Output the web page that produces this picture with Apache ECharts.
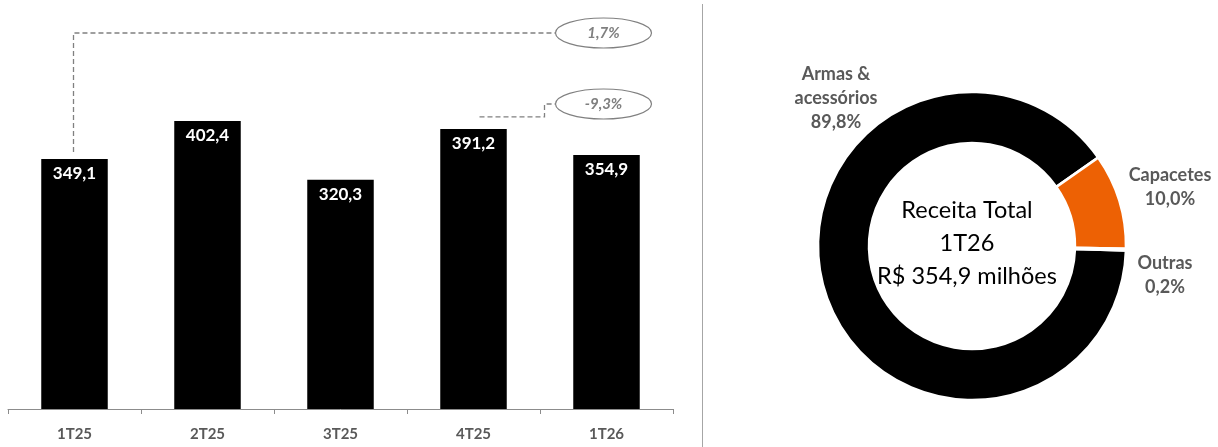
<!DOCTYPE html>
<html>
<head>
<meta charset="utf-8">
<script src="https://cdn.jsdelivr.net/npm/echarts@6/dist/echarts.min.js"></script>
<style>
  html, body { margin: 0; padding: 0; background: #fff; }
  #chart { width: 1218px; height: 447px; }
</style>
</head>
<body>
<div id="chart"></div>
<script>
// Quarterly revenue (R$ milhões)
const quarters = ['1T25', '2T25', '3T25', '4T25', '1T26'];
const revenue = [349.1, 402.4, 320.3, 391.2, 354.9];

// Revenue mix of the latest quarter (%)
const segments = ['Armas &\nacessórios', 'Capacetes', 'Outras'];
const segmentShare = [89.8, 10.0, 0.2];
const segmentColors = ['#000000', '#ED6104', '#000000'];

const centerLines = ['Receita Total', '1T26', 'R$ 354,9 milhões'];

const FONT = 'Lato, "Open Sans", sans-serif';
const GREY = '#595959';
const fmt = v => v.toFixed(1).replace('.', ',');

const chart = echarts.init(document.getElementById('chart'));

const labelPos = [
  { x: 836, y: 98 },
  { x: 1170, y: 187 },
  { x: 1165, y: 275 }
];

chart.setOption({
  animation: false,
  grid: { left: 8, right: 545, top: 51, bottom: 38 },
  xAxis: {
    type: 'category',
    data: quarters,
    axisLine: { lineStyle: { color: '#8c8c8c', width: 1 } },
    axisTick: { show: true, length: 5, lineStyle: { color: '#8c8c8c' } },
    axisLabel: { color: GREY, fontFamily: FONT, fontWeight: 'bold', fontSize: 15, margin: 18 }
  },
  yAxis: { type: 'value', min: 0, max: 500, show: false, splitLine: { show: false } },
  series: [
    {
      type: 'bar',
      data: revenue,
      barWidth: '50%',
      itemStyle: { color: '#000' },
      label: {
        show: true,
        position: 'insideTop',
        distance: 6,
        color: '#fff',
        fontFamily: FONT,
        fontWeight: 'bold',
        fontSize: 17,
        formatter: p => fmt(p.value)
      }
    },
    {
      type: 'pie',
      center: [972, 246],
      radius: [103, 154],
      startAngle: -1.7,
      clockwise: true,
      avoidLabelOverlap: false,
      itemStyle: { borderColor: '#fff', borderWidth: 2.5 },
      label: {
        show: true,
        position: 'outside',
        color: GREY,
        fontFamily: FONT,
        fontWeight: 'bold',
        fontSize: 18,
        lineHeight: 24,
        align: 'center',
        formatter: p => p.name + '\n' + fmt(p.value) + '%'
      },
      labelLine: { show: false },
      labelLayout: p => ({
        x: labelPos[p.dataIndex].x,
        y: labelPos[p.dataIndex].y,
        align: 'center',
        verticalAlign: 'middle'
      }),
      emphasis: { disabled: true },
      data: segments.map((n, i) => ({
        name: n,
        value: segmentShare[i],
        itemStyle: { color: segmentColors[i] }
      }))
    }
  ]
});

// Growth annotations built from the bar values
function barTop(i) { return chart.convertToPixel({ xAxisIndex: 0, yAxisIndex: 0 }, [i, revenue[i]]); }
const last = revenue.length - 1;
const pFirst = barTop(0), pPrev = barTop(3), pLast = barTop(last);
const growthYoY = (revenue[last] / revenue[0] - 1) * 100;
const growthQoQ = (revenue[last] / revenue[3] - 1) * 100;

const dash = { stroke: '#808080', lineWidth: 1.3, lineDash: [5, 3] };
const ex = pLast[0] - 3, rx = 48, ry = 15;
const e1y = 33, e2y = 104;

function bubble(cy, txt) {
  return [
    { type: 'ellipse', shape: { cx: ex, cy: cy, rx: rx, ry: ry },
      style: { fill: '#fff', stroke: '#808080', lineWidth: 1.2 }, z: 10 },
    { type: 'text', x: ex, y: cy, z: 11,
      style: { text: txt, fill: '#7f7f7f', font: 'italic bold 15px ' + FONT, align: 'center', verticalAlign: 'middle' } }
  ];
}

chart.setOption({
  graphic: [
    { type: 'polyline', shape: { points: [[pFirst[0] - 1, pFirst[1] - 7], [pFirst[0] - 1, e1y], [ex - rx, e1y]] }, style: Object.assign({ fill: null }, dash) },
    { type: 'polyline', shape: { points: [[pPrev[0] + 6, pPrev[1] - 12], [ex - 59, pPrev[1] - 12], [ex - 59, e2y], [ex - rx, e2y]] }, style: Object.assign({ fill: null }, dash) },
    ...bubble(e1y, fmt(growthYoY) + '%'),
    ...bubble(e2y, fmt(growthQoQ) + '%'),
    { type: 'line', shape: { x1: 702.5, y1: 4, x2: 702.5, y2: 447 }, style: { stroke: '#a6a6a6', lineWidth: 1 } },
    {
      type: 'text', x: 967, y: 243, z: 5,
      style: { text: centerLines.join('\n'), fill: '#000', font: '23.5px ' + FONT, lineHeight: 33, align: 'center', verticalAlign: 'middle' }
    }
  ]
});
</script>
</body>
</html>
